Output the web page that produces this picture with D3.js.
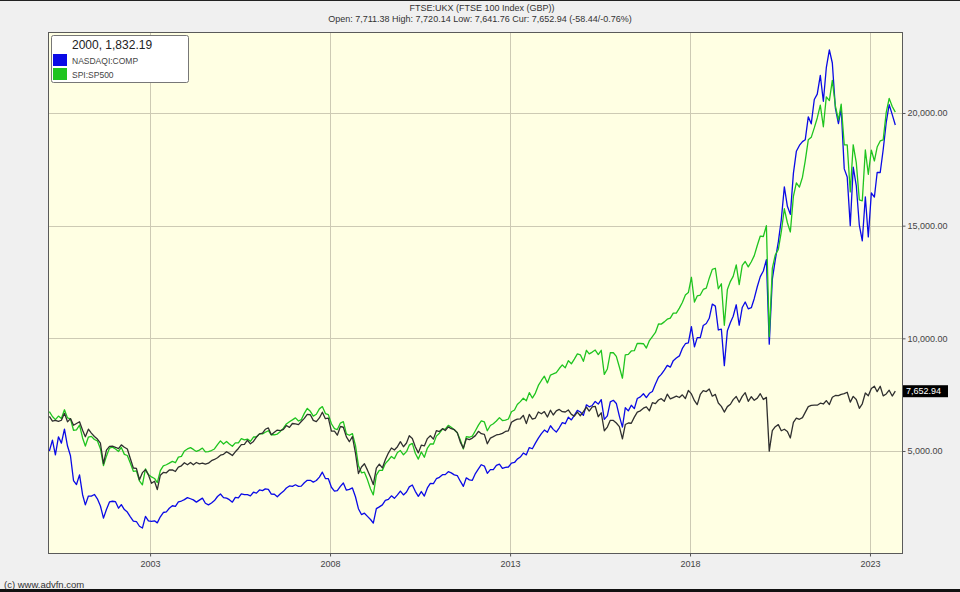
<!DOCTYPE html>
<html>
<head>
<meta charset="utf-8">
<script src="https://cdn.jsdelivr.net/npm/d3@7"></script>
<style>
  body { margin: 0; background: #f0f0f0; }
  svg { display: block; font-family: "Liberation Sans", Arial, sans-serif; }
</style>
</head>
<body>
<svg id="chart" width="960" height="592"></svg>
<script>
// monthly readings, Mar 2000 .. Sep 2023 (values on the FTSE scale)
var ftse = [
  6540, 6327, 6359, 6312, 6365, 6672, 6294, 6438, 6142, 6222,
  6297, 5918, 5634, 5967, 5796, 5643, 5529, 5345, 4434, 5040, 5204, 5217,
  5165, 5102, 5272, 5165, 5086, 4656, 4246, 4227, 3722, 4039, 4169, 3940,
  3567, 3656, 3290, 3926, 4048, 4031, 4157, 4161, 4091, 4287, 4343, 4477,
  4390, 4492, 4386, 4489, 4431, 4464, 4413, 4459, 4571, 4624, 4703, 4814,
  4852, 4968, 4894, 4801, 4964, 5113, 5282, 5297, 5478, 5317, 5423, 5619,
  5760, 5792, 5965, 6023, 5724, 5833, 5928, 5906, 5961, 6129, 6049, 6221,
  6203, 6172, 6308, 6449, 6622, 6608, 6360, 6303, 6467, 6722, 6432, 6457,
  5880, 5884, 5702, 6087, 6054, 5626, 5412, 5637, 4902, 4000, 4288, 4434,
  4150, 3830, 3512, 4244, 4418, 4249, 4608, 4909, 5134, 5045, 5191, 5413,
  5189, 5355, 5680, 5553, 5188, 4917, 5258, 5225, 5549, 5675, 5528, 5900,
  5863, 5994, 5909, 6070, 5990, 5946, 5815, 5395, 5128, 5544, 5505, 5572,
  5682, 5872, 5768, 5738, 5321, 5571, 5635, 5711, 5742, 5783, 5867, 5898,
  6277, 6361, 6412, 6430, 6583, 6215, 6621, 6413, 6462, 6731, 6651, 6749,
  6510, 6810, 6598, 6780, 6845, 6744, 6730, 6820, 6623, 6546, 6723, 6566,
  6749, 6947, 6773, 6961, 6984, 6521, 6696, 5898, 6062, 6361, 6356, 6242,
  6084, 5537, 6175, 6242, 6231, 6504, 6724, 6782, 6899, 6954, 6784, 7143,
  7099, 7263, 7323, 7204, 7520, 7313, 7372, 7431, 7373, 7493, 7327, 7688,
  7534, 7232, 7057, 7509, 7678, 7637, 7749, 7432, 7510, 7128, 6980, 6728,
  6969, 7075, 7279, 7418, 7162, 7426, 7587, 7207, 7408, 7248, 7347, 7542,
  7286, 7380, 4994, 5901, 6077, 6170, 5898, 5964, 5866, 5577, 6266, 6461,
  6407, 6483, 6714, 6970, 7023, 7037, 7032, 7120, 7086, 7238, 7059, 7385,
  7464, 7458, 7516, 7545, 7608, 7169, 7423, 7284, 6894, 7095, 7573, 7452,
  7772, 7876, 7632, 7871, 7446, 7532, 7699, 7439, 7652.94
];

var nasdaq = [
  5000, 5480, 4830, 5630, 5350, 5970, 5220, 4790, 3690, 3510,
  3940, 3060, 2610, 3000, 3000, 3070, 2880, 2560, 2020, 2400, 2740, 2770,
  2750, 2460, 2620, 2400, 2290, 2080, 1890, 1870, 1660, 1580, 2100, 1900,
  1880, 1900, 1810, 2080, 2270, 2300, 2460, 2570, 2540, 2740, 2780, 2840,
  2930, 2880, 2830, 2730, 2820, 2910, 2680, 2610, 2690, 2800, 2980, 3090,
  2930, 2910, 2840, 2730, 2940, 2920, 3100, 3060, 3060, 3010, 3170, 3130,
  3270, 3240, 3320, 3300, 3090, 3080, 2970, 3100, 3210, 3360, 3450, 3430,
  3500, 3430, 3440, 3590, 3700, 3700, 3620, 3690, 3840, 4060, 3780, 3770,
  3390, 3220, 3240, 3430, 3580, 3260, 3300, 3360, 2970, 2440, 2180, 2240,
  2100, 1960, 1800, 2440, 2520, 2610, 2810, 2850, 3010, 2900, 3050, 3220,
  3050, 3180, 3410, 3490, 3210, 2990, 3200, 3000, 3360, 3560, 3550, 3770,
  3830, 3950, 3950, 4080, 4030, 3940, 3910, 3660, 3430, 3810, 3720, 3700,
  4000, 4210, 4390, 4330, 4010, 4170, 4170, 4360, 4420, 4230, 4270, 4290,
  4460, 4490, 4640, 4730, 4910, 4830, 5150, 5100, 5350, 5570, 5770, 5930,
  5830, 6120, 5960, 5840, 6030, 6260, 6210, 6500, 6380, 6580, 6800, 6730,
  6580, 7050, 6960, 7020, 7200, 7080, 7280, 6400, 6560, 7180, 7250, 7110,
  6550, 6060, 6920, 6780, 7030, 6880, 7330, 7400, 7540, 7370, 7560, 7640,
  7970, 8270, 8400, 8590, 8800, 8720, 9010, 9130, 9220, 9550, 9760, 9800,
  10520, 9620, 10030, 10030, 10570, 10660, 10890, 11520, 11430, 10370, 10410, 8790,
  10340, 10700, 10980, 11490, 10580, 11370, 11610, 11310, 11360, 11770, 12300, 12740,
  12990, 13490, 9740, 12620, 13480, 14280, 15260, 16720, 15860, 15500, 17320, 18300,
  18560, 18730, 18810, 19830, 19520, 20600, 20840, 21670, 20520, 22010, 22800, 22220,
  20220, 19530, 20190, 17520, 17160, 15000, 17600, 16780, 15020, 14330, 16280, 14500,
  16450, 16270, 17360, 17360, 18370, 19580, 20370, 19930, 19470
];

var sp500 = [
  6750, 6530, 6390, 6550, 6440, 6830, 6470, 6430, 5920, 5940,
  6150, 5580, 5220, 5620, 5650, 5510, 5450, 5100, 4350, 4770, 5130, 5170,
  5090, 4980, 5160, 4850, 4800, 4460, 4100, 4120, 3670, 3500, 4210, 3960,
  3850, 3780, 3600, 4130, 4340, 4390, 4460, 4540, 4480, 4730, 4760, 5000,
  5090, 5150, 5070, 4980, 5040, 5130, 4960, 4970, 5020, 5090, 5280, 5450,
  5310, 5420, 5310, 5210, 5360, 5360, 5550, 5490, 5530, 5430, 5620, 5620,
  5760, 5760, 5830, 5900, 5720, 5720, 5750, 5870, 6010, 6200, 6300, 6380,
  6470, 6330, 6390, 6670, 6890, 6760, 6550, 6630, 6870, 6970, 6660, 6610,
  6210, 5990, 5950, 6240, 6300, 5760, 5700, 5770, 5250, 4360, 4030, 4060,
  3720, 3310, 3050, 3930, 4140, 4140, 4440, 4590, 4760, 4660, 4930, 5020,
  4830, 4970, 5260, 5340, 4900, 4640, 4960, 4720, 5130, 5320, 5310, 5660,
  5790, 5970, 5970, 6140, 6050, 5940, 5810, 5490, 5090, 5640, 5610, 5660,
  5900, 6150, 6340, 6290, 5900, 6130, 6210, 6330, 6480, 6350, 6370, 6420,
  6740, 6820, 7060, 7190, 7340, 7230, 7590, 7350, 7570, 7910, 8130, 8320,
  8020, 8370, 8420, 8480, 8660, 8820, 8690, 9010, 8870, 9080, 9310, 9270,
  8980, 9470, 9310, 9390, 9480, 9280, 9470, 8400, 8640, 9360, 9360, 9200,
  8730, 8230, 9270, 9290, 9440, 9450, 9780, 9770, 9760, 9570, 9900, 10080,
  10260, 10640, 10630, 10730, 10850, 10900, 11120, 11120, 11340, 11590, 11920, 12030,
  12710, 11610, 11880, 11920, 12170, 12230, 12670, 13060, 13110, 12200, 12420, 10580,
  12170, 12530, 12750, 13260, 12380, 13240, 13410, 13170, 13400, 13670, 14130, 14540,
  14520, 15000, 10070, 13100, 13700, 13950, 14720, 15750, 15130, 14720, 16300, 16900,
  16710, 17150, 17880, 18810, 18920, 19340, 19780, 20350, 19390, 20720, 20550, 21450,
  20320, 19680, 20390, 18590, 18590, 16500, 18590, 17800, 16140, 16100, 18360, 17280,
  18350, 17870, 18490, 18760, 18810, 20030, 20650, 20290, 20040
];

var yTicks = [5000, 10000, 15000, 20000];
var xTickYears = [2003, 2008, 2013, 2018, 2023];
var legendItems = ["NASDAQI:COMP", "SPI:SP500"];
var legendColors = ["#0a0ae6", "#1fc41f"];

var titleText = "FTSE:UKX (FTSE 100 Index (GBP))";
var subtitleText = "Open: 7,711.38 High: 7,720.14 Low: 7,641.76 Cur: 7,652.94 (-58.44/-0.76%)";
var legendHead = "2000, 1,832.19";
var lastText = "7,652.94";

var svg = d3.select("#chart");
var W = 960, H = 592;
var plot = { left: 48, top: 32, right: 902, bottom: 553 };

var months = d3.timeMonth.range(new Date(2000, 2, 1), new Date(2023, 9, 1));
var dates = months.map(function(m) { return d3.timeDay.offset(m, 14); });

var x = d3.scaleTime()
  .domain([new Date(2000, 2, 1), new Date(2023, 10, 22)])
  .range([plot.left, plot.right]);

var y = d3.scaleLinear()
  .domain([473, 23595])
  .range([plot.bottom, plot.top]);

// outer frame
svg.append("rect").attr("x", 0).attr("y", 0).attr("width", W).attr("height", H).attr("fill", "#f0f0f0");
svg.append("line").attr("x1", 0).attr("x2", W).attr("y1", 0.5).attr("y2", 0.5).attr("stroke", "#222");
svg.append("line").attr("x1", 0).attr("x2", W).attr("y1", 590.5).attr("y2", 590.5).attr("stroke", "#111").attr("stroke-width", 3);

// plot background
svg.append("rect")
  .attr("x", plot.left).attr("y", plot.top)
  .attr("width", plot.right - plot.left).attr("height", plot.bottom - plot.top)
  .attr("fill", "#ffffe3");

// grid
svg.append("g").selectAll("line")
  .data(yTicks).enter().append("line")
  .attr("x1", plot.left).attr("x2", plot.right)
  .attr("y1", function(d) { return Math.round(y(d)) + 0.5; })
  .attr("y2", function(d) { return Math.round(y(d)) + 0.5; })
  .attr("stroke", "#cdcab4");

svg.append("g").selectAll("line")
  .data(xTickYears).enter().append("line")
  .attr("x1", function(d) { return Math.round(x(new Date(d, 0, 1))) + 0.5; })
  .attr("x2", function(d) { return Math.round(x(new Date(d, 0, 1))) + 0.5; })
  .attr("y1", plot.top).attr("y2", plot.bottom)
  .attr("stroke", "#cdcab4");

// series
var line = d3.line()
  .x(function(d, i) { return x(dates[i]); })
  .y(function(d) { return y(d); });

var series = [
  { values: nasdaq, color: legendColors[0] },
  { values: sp500, color: legendColors[1] },
  { values: ftse, color: "#303030" }
];

svg.append("g").selectAll("path")
  .data(series).enter().append("path")
  .attr("d", function(d) { return line(d.values); })
  .attr("fill", "none")
  .attr("stroke", function(d) { return d.color; })
  .attr("stroke-width", 1.3)
  .attr("stroke-linejoin", "round");

// plot border
svg.append("rect")
  .attr("x", plot.left + 0.5).attr("y", plot.top + 0.5)
  .attr("width", plot.right - plot.left).attr("height", plot.bottom - plot.top)
  .attr("fill", "none").attr("stroke", "#5a5a5a");

// right axis
var yAxis = d3.axisRight(y)
  .tickValues(yTicks)
  .tickSize(3)
  .tickPadding(2)
  .tickFormat(d3.format(",.2f"));

var gy = svg.append("g")
  .attr("transform", "translate(" + (plot.right + 0.5) + ",0)")
  .call(yAxis);
gy.select(".domain").remove();
gy.selectAll(".tick line").attr("stroke", "#555");
gy.selectAll("text").attr("fill", "#444").style("font-size", "9px");

// bottom axis
var xAxis = d3.axisBottom(x)
  .tickValues(xTickYears.map(function(d) { return new Date(d, 0, 1); }))
  .tickSize(3)
  .tickPadding(4)
  .tickFormat(d3.timeFormat("%Y"));

var gx = svg.append("g")
  .attr("transform", "translate(0," + (plot.bottom + 0.5) + ")")
  .call(xAxis);
gx.select(".domain").remove();
gx.selectAll(".tick line").attr("stroke", "#555");
gx.selectAll("text").attr("fill", "#444").style("font-size", "9px");

// last value tag
var lastY = y(ftse[ftse.length - 1]);
svg.append("rect")
  .attr("x", plot.right + 1).attr("y", lastY - 6)
  .attr("width", 45).attr("height", 12)
  .attr("fill", "#000");
svg.append("text")
  .attr("x", plot.right + 4).attr("y", lastY + 3)
  .attr("fill", "#fff").style("font-size", "9px")
  .text(lastText);

// titles
svg.append("text")
  .attr("x", 482).attr("y", 11)
  .attr("text-anchor", "middle")
  .attr("fill", "#333").style("font-size", "9px")
  .text(titleText);
svg.append("text")
  .attr("x", 480).attr("y", 22)
  .attr("text-anchor", "middle")
  .attr("fill", "#333").style("font-size", "9px")
  .text(subtitleText);

// legend
var lg = svg.append("g");
lg.append("rect")
  .attr("x", 51.5).attr("y", 35.5)
  .attr("width", 137).attr("height", 47)
  .attr("rx", 2)
  .attr("fill", "#fff").attr("stroke", "#777");
lg.append("text")
  .attr("x", 72).attr("y", 49)
  .attr("fill", "#222").style("font-size", "12px")
  .text(legendHead);

var li = lg.selectAll(".item")
  .data(legendItems).enter().append("g")
  .attr("class", "item")
  .attr("transform", function(d, i) { return "translate(53," + (54 + i * 14) + ")"; });
li.append("rect")
  .attr("width", 14).attr("height", 12)
  .attr("fill", function(d, i) { return legendColors[i]; });
li.append("text")
  .attr("x", 19).attr("y", 10)
  .attr("fill", "#444").style("font-size", "8.5px")
  .text(function(d) { return d; });

// credit
svg.append("text")
  .attr("x", 4).attr("y", 588)
  .attr("fill", "#333").style("font-size", "9.5px")
  .text("(c) www.advfn.com");
</script>
</body>
</html>
